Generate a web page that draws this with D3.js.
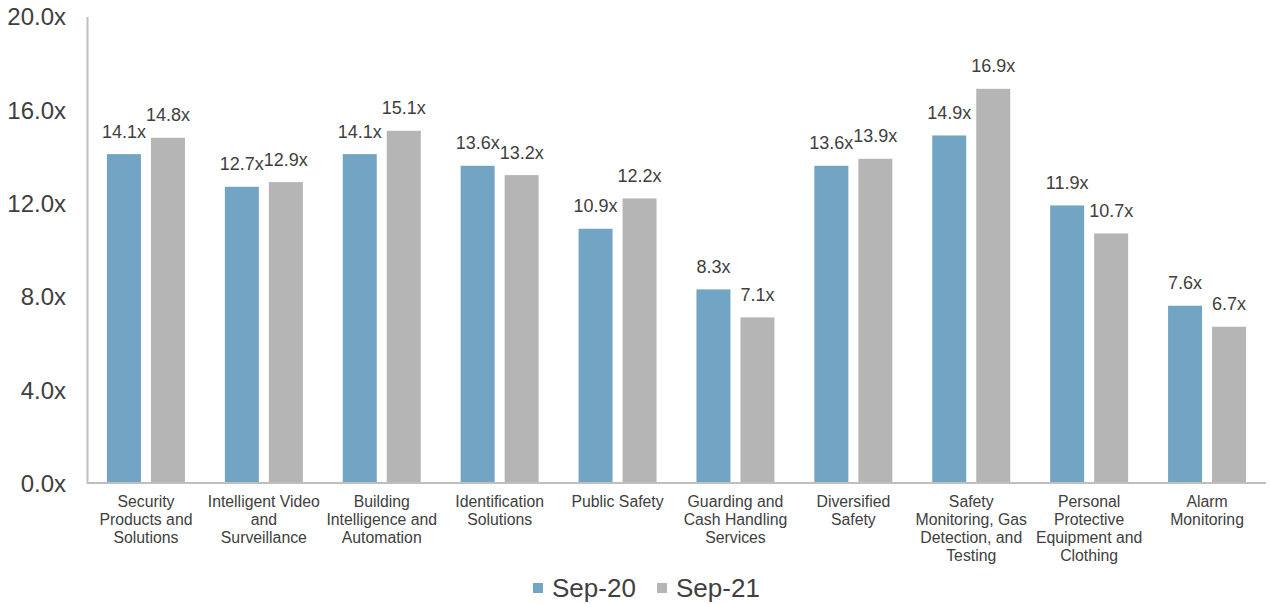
<!DOCTYPE html>
<html><head><meta charset="utf-8">
<script src="https://cdn.jsdelivr.net/npm/d3@7"></script>
<style>body{margin:0;background:#fff}svg{display:block;font-family:"Liberation Sans",Arial,sans-serif}</style>
</head><body><svg id="c" width="1270" height="604"></svg>
<script>
const categories = [
  ["Security","Products and","Solutions"],
  ["Intelligent Video","and","Surveillance"],
  ["Building","Intelligence and","Automation"],
  ["Identification","Solutions"],
  ["Public Safety"],
  ["Guarding and","Cash Handling","Services"],
  ["Diversified","Safety"],
  ["Safety","Monitoring, Gas","Detection, and","Testing"],
  ["Personal","Protective","Equipment and","Clothing"],
  ["Alarm","Monitoring"]
];
const seriesNames = ["Sep-20","Sep-21"];
const sep20 = [14.1,12.7,14.1,13.6,10.9,8.3,13.6,14.9,11.9,7.6];
const sep21 = [14.8,12.9,15.1,13.2,12.2,7.1,13.9,16.9,10.7,6.7];
const yTicks = [0,4,8,12,16,20];
const colors = ["#72a5c3","#b5b5b5"];

const svg = d3.select("#c");
const mLeft = 87, mRight = 1266, mTop = 16.5, mBottom = 483;
const x = d3.scaleBand().domain(d3.range(categories.length)).range([mLeft,mRight]).paddingInner(0).paddingOuter(0);
const y = d3.scaleLinear().domain([0,20]).range([mBottom,mTop]);
const barW = 34, gap = 10;
const series = [sep20, sep21];

// bars
series.forEach((vals,si)=>{
  const g = svg.append("g");
  g.selectAll("rect").data(vals).join("rect")
    .attr("x",(d,i)=>x(i)+x.bandwidth()/2 - gap/2 - barW + si*(barW+gap))
    .attr("y",d=>y(d)).attr("width",barW).attr("height",d=>mBottom-y(d))
    .attr("fill",colors[si]);
  g.selectAll("text").data(vals).join("text")
    .attr("x",(d,i)=>x(i)+x.bandwidth()/2 - gap/2 - barW/2 + si*(barW+gap))
    .attr("y",d=>y(d)-16.5).attr("text-anchor","middle")
    .attr("font-size",18).attr("fill","#404040")
    .text(d=>d.toFixed(1)+"x");
});

// axes
const yAxis = d3.axisLeft(y).tickValues(yTicks).tickSize(0).tickPadding(21).tickFormat(d=>d.toFixed(1)+"x");
const ga = svg.append("g").attr("transform",`translate(${mLeft},0)`).call(yAxis);
ga.select(".domain").attr("stroke","#bfbfbf").attr("stroke-width",2);
ga.selectAll("text").attr("font-size",24).attr("fill","#404040").attr("font-family","Liberation Sans, Arial, sans-serif").attr("dy","0.35em");

svg.append("line").attr("x1",mLeft).attr("x2",mRight).attr("y1",mBottom).attr("y2",mBottom)
  .attr("stroke","#bfbfbf").attr("stroke-width",2);

// category labels
const cl = svg.append("g");
categories.forEach((lines,i)=>{
  const t = cl.append("text").attr("text-anchor","middle").attr("font-size",15.8).attr("fill","#404040");
  lines.forEach((ln,j)=>{
    t.append("tspan").attr("x",x(i)+x.bandwidth()/2).attr("y",507+j*18).text(ln);
  });
});

// legend
const legendX = [533, 657];
seriesNames.forEach((n,i)=>{
  svg.append("rect").attr("x",legendX[i]).attr("y",583).attr("width",10).attr("height",10).attr("fill",colors[i]);
  svg.append("text").attr("x",legendX[i]+19).attr("y",596.5).attr("font-size",26).attr("fill","#404040").text(n);
});
</script></body></html>
